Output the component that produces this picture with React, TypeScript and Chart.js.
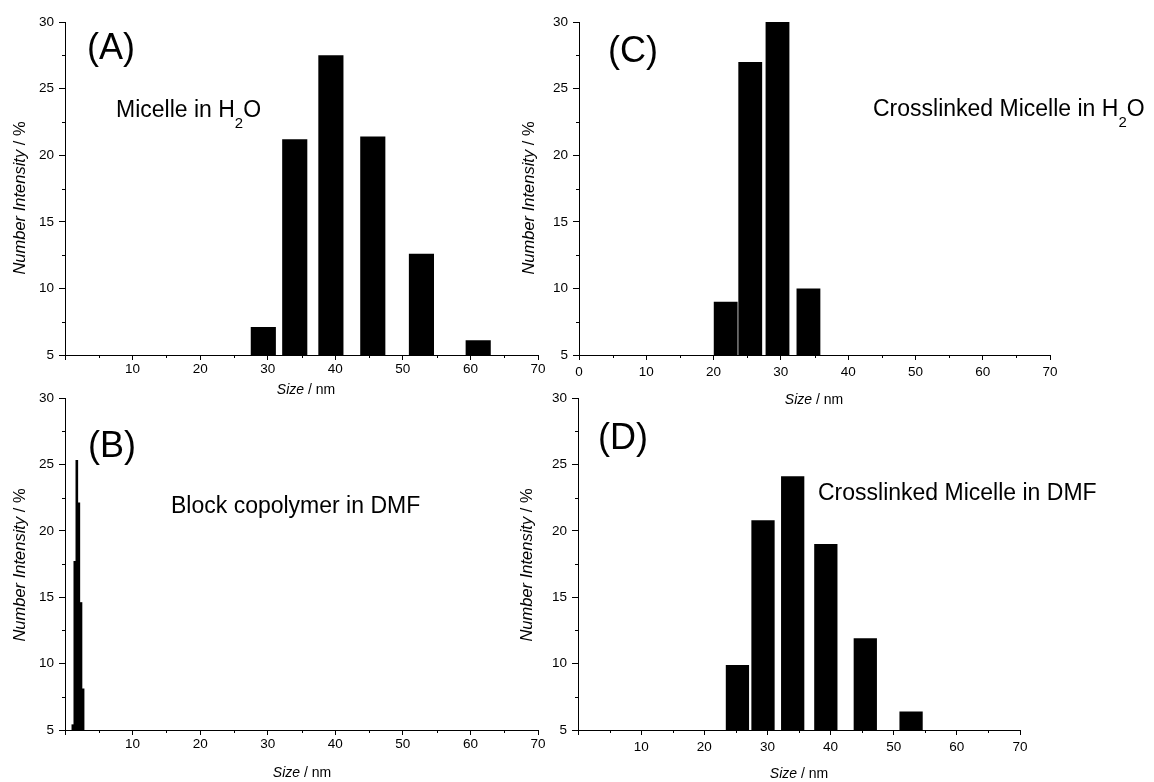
import React, { useEffect, useRef } from 'react';
import { Chart, registerables } from 'chart.js';

Chart.register(...registerables);

const FAMILY = '"Liberation Sans", Arial, Helvetica, sans-serif';

// ---- Data ----
// (A) Micelle in H2O
const sizesA = [29.35, 34.0, 39.35, 45.55, 52.75, 61.15];
const intensityA = [7.1, 21.2, 27.5, 21.4, 12.6, 6.1];
// (B) Block copolymer in DMF
const sizesB = [1.16, 1.45, 1.75, 2.05, 2.37, 2.68];
const intensityB = [5.4, 17.7, 25.3, 22.1, 14.6, 8.1];
// (C) Crosslinked Micelle in H2O
const sizesC = [21.8, 25.45, 29.5, 34.1];
const intensityC = [9.0, 27.0, 30.0, 10.0];
// (D) Crosslinked Micelle in DMF
const sizesD = [25.25, 29.3, 34.0, 39.25, 45.5, 52.75];
const intensityD = [9.9, 20.8, 24.1, 19.0, 11.9, 6.4];

// ---- Axes ----
const xTickValues = [0, 10, 20, 30, 40, 50, 60, 70];
const xMinorTicks = [5, 15, 25, 35, 45, 55, 65];
const yTickValues = [5, 10, 15, 20, 25, 30];
const yMinorTicks = [7.5, 12.5, 17.5, 22.5, 27.5];
const X_MIN = 0, X_MAX = 70, Y_MIN = 5, Y_MAX = 30;

type Part = { t: string; italic?: boolean; sub?: boolean };

const yTitle: Part[] = [{ t: 'Number Intensity', italic: true }, { t: ' / %' }];
const xTitle: Part[] = [{ t: 'Size', italic: true }, { t: ' / nm' }];

const notesA: Part[] = [{ t: 'Micelle in H' }, { t: '2', sub: true }, { t: 'O' }];
const notesB: Part[] = [{ t: 'Block copolymer in DMF' }];
const notesC: Part[] = [{ t: 'Crosslinked Micelle in H' }, { t: '2', sub: true }, { t: 'O' }];
const notesD: Part[] = [{ t: 'Crosslinked Micelle in DMF' }];

type Panel = {
  key: string;
  sizes: number[];
  values: number[];
  barPct: number;
  box: { left: number; top: number; w: number; h: number };
  plot: { l: number; t: number; r: number; b: number };
  showZero: boolean;
  xTickPad: number;
  label: { text: string; x: number; y: number };
  note: { parts: Part[]; x: number; y: number };
  yTitlePos: { x: number; y: number };
  xTitlePos: { x: number; y: number };
};

const panels: Panel[] = [
  {
    key: 'A', sizes: sizesA, values: intensityA, barPct: 0.8,
    box: { left: 0, top: 0, w: 560, h: 410 },
    plot: { l: 65, t: 22, r: 538, b: 355 },
    showZero: false, xTickPad: 1,
    label: { text: '(A)', x: 87, y: 59 },
    note: { parts: notesA, x: 116, y: 117 },
    yTitlePos: { x: 20, y: 198 },
    xTitlePos: { x: 306, y: 390 },
  },
  {
    key: 'C', sizes: sizesC, values: intensityC, barPct: 0.97,
    box: { left: 500, top: 0, w: 654, h: 415 },
    plot: { l: 579, t: 22, r: 1050, b: 355 },
    showZero: true, xTickPad: 4,
    label: { text: '(C)', x: 608, y: 62 },
    note: { parts: notesC, x: 873, y: 116 },
    yTitlePos: { x: 529, y: 198 },
    xTitlePos: { x: 814, y: 400 },
  },
  {
    key: 'B', sizes: sizesB, values: intensityB, barPct: 1.0,
    box: { left: 0, top: 380, w: 560, h: 402 },
    plot: { l: 65, t: 398, r: 538, b: 730 },
    showZero: false, xTickPad: 1,
    label: { text: '(B)', x: 88, y: 457 },
    note: { parts: notesB, x: 171, y: 513 },
    yTitlePos: { x: 20, y: 565 },
    xTitlePos: { x: 302, y: 773 },
  },
  {
    key: 'D', sizes: sizesD, values: intensityD, barPct: 0.91,
    box: { left: 500, top: 380, w: 654, h: 402 },
    plot: { l: 578, t: 398, r: 1020, b: 730 },
    showZero: false, xTickPad: 4,
    label: { text: '(D)', x: 598, y: 449 },
    note: { parts: notesD, x: 818, y: 500 },
    yTitlePos: { x: 527, y: 565 },
    xTitlePos: { x: 799, y: 774 },
  },
];

function drawRich(ctx: CanvasRenderingContext2D, x: number, y: number, parts: Part[], size: number, align: 'left' | 'center') {
  let total = 0;
  const items = parts.map((p) => {
    const fs = p.sub ? size * 0.65 : size;
    const font = `${p.italic ? 'italic ' : ''}${fs}px ${FAMILY}`;
    ctx.font = font;
    const w = ctx.measureText(p.t).width;
    total += w;
    return { t: p.t, font, w, dy: p.sub ? size * 0.46 : 0 };
  });
  let cx = align === 'center' ? x - total / 2 : x;
  for (const it of items) {
    ctx.font = it.font;
    ctx.fillText(it.t, cx, y + it.dy);
    cx += it.w;
  }
}

function makePlugin(p: Panel) {
  return {
    id: 'panelText' + p.key,
    afterDraw(chart: any) {
      const ctx: CanvasRenderingContext2D = chart.ctx;
      const ox = p.box.left, oy = p.box.top;
      const xs = chart.scales.x, ys = chart.scales.y;
      ctx.save();
      // minor ticks
      ctx.strokeStyle = '#000';
      ctx.lineWidth = 1;
      for (const v of xMinorTicks) {
        const px = Math.round(xs.getPixelForValue(v)) + 0.5;
        ctx.beginPath();
        ctx.moveTo(px, xs.top);
        ctx.lineTo(px, xs.top + 3);
        ctx.stroke();
      }
      for (const v of yMinorTicks) {
        const py = Math.round(ys.getPixelForValue(v)) + 0.5;
        ctx.beginPath();
        ctx.moveTo(ys.right - 3, py);
        ctx.lineTo(ys.right, py);
        ctx.stroke();
      }
      ctx.fillStyle = '#000';
      ctx.textBaseline = 'alphabetic';
      // panel label
      ctx.font = `36px ${FAMILY}`;
      ctx.fillText(p.label.text, p.label.x - ox, p.label.y - oy);
      // note
      drawRich(ctx, p.note.x - ox, p.note.y - oy, p.note.parts, 23, 'left');
      // x title
      ctx.textBaseline = 'middle';
      drawRich(ctx, p.xTitlePos.x - ox, p.xTitlePos.y - oy, xTitle, 14, 'center');
      // y title
      ctx.save();
      ctx.translate(p.yTitlePos.x - ox, p.yTitlePos.y - oy);
      ctx.rotate(-Math.PI / 2);
      drawRich(ctx, 0, 0, yTitle, 16.5, 'center');
      ctx.restore();
      ctx.restore();
    },
  };
}

function makeConfig(p: Panel): any {
  const tickFont = { family: FAMILY, size: 13.5 };
  return {
    type: 'bar',
    data: {
      datasets: [
        {
          data: p.sizes.map((x, i) => ({ x, y: p.values[i] })),
          backgroundColor: '#000',
          borderWidth: 0,
          barPercentage: p.barPct,
          categoryPercentage: 1,
        },
      ],
    },
    options: {
      animation: false,
      responsive: false,
      events: [],
      layout: {
        padding: {
          left: 0,
          top: p.plot.t - p.box.top,
          right: p.box.left + p.box.w - p.plot.r,
          bottom: 0,
        },
      },
      plugins: { legend: { display: false }, tooltip: { enabled: false }, title: { display: false } },
      scales: {
        x: {
          type: 'linear',
          min: X_MIN,
          max: X_MAX,
          offset: false,
          afterBuildTicks: (s: any) => {
            s.ticks = xTickValues.map((v) => ({ value: v }));
          },
          afterFit: (s: any) => {
            s.height = p.box.top + p.box.h - p.plot.b;
          },
          ticks: {
            autoSkip: false,
            maxRotation: 0,
            minRotation: 0,
            padding: p.xTickPad,
            color: '#000',
            font: tickFont,
            callback: (v: number) => (v === 0 && !p.showZero ? '' : String(v)),
          },
          grid: { offset: false, drawOnChartArea: false, drawTicks: true, tickLength: 5, tickColor: '#000', color: '#000' },
          border: { display: true, color: '#000', width: 1 },
        },
        y: {
          type: 'linear',
          min: Y_MIN,
          max: Y_MAX,
          afterBuildTicks: (s: any) => {
            s.ticks = yTickValues.map((v) => ({ value: v }));
          },
          afterFit: (s: any) => {
            s.width = p.plot.l - p.box.left;
          },
          ticks: { padding: 5, color: '#000', font: tickFont, callback: (v: number) => String(v) },
          grid: { drawOnChartArea: false, drawTicks: true, tickLength: 6, tickColor: '#000', color: '#000' },
          border: { display: true, color: '#000', width: 1 },
        },
      },
    },
    plugins: [makePlugin(p)],
  };
}

function PanelChart({ p }: { p: Panel }) {
  const ref = useRef<HTMLCanvasElement | null>(null);
  useEffect(() => {
    if (!ref.current) return;
    const chart = new Chart(ref.current, makeConfig(p));
    return () => chart.destroy();
  }, [p]);
  return (
    <canvas
      ref={ref}
      width={p.box.w}
      height={p.box.h}
      style={{ position: 'absolute', left: p.box.left, top: p.box.top, width: p.box.w, height: p.box.h }}
    />
  );
}

export default function App() {
  return (
    <div style={{ position: 'absolute', left: 0, top: 0, width: 1154, height: 782, background: '#fff', overflow: 'hidden' }}>
      {panels.map((p) => (
        <PanelChart key={p.key} p={p} />
      ))}
    </div>
  );
}
